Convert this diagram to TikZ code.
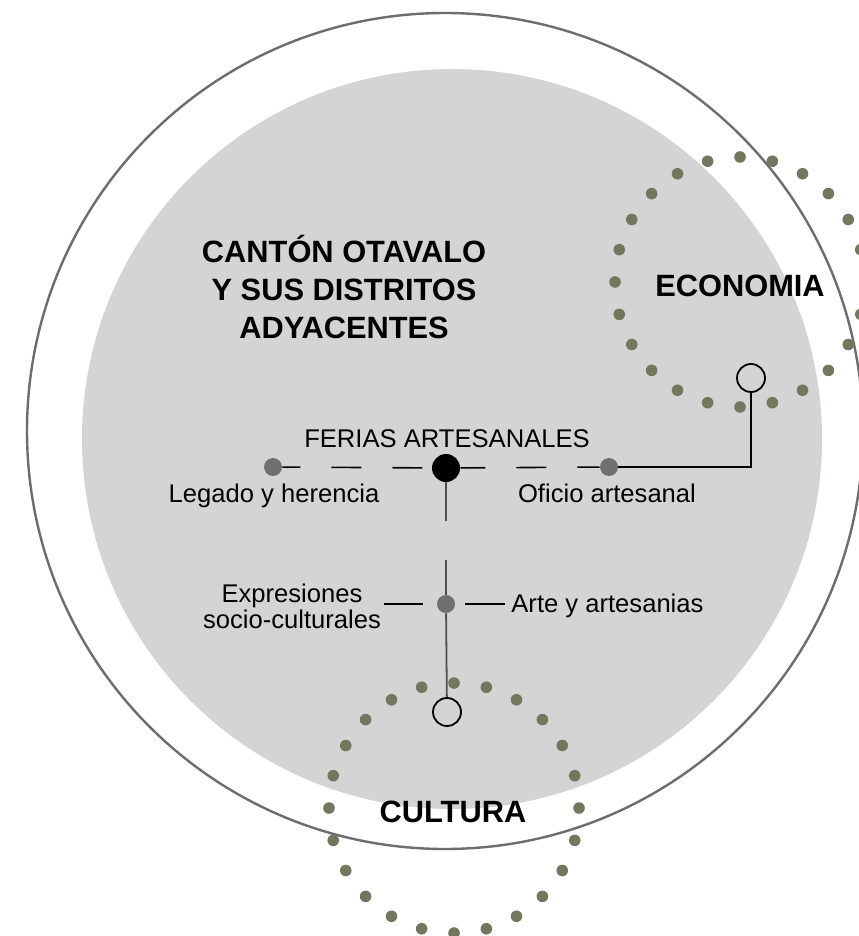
\documentclass[tikz,border=0pt]{standalone}
\usepackage{fontspec}
\setmainfont{Liberation Sans}
\usetikzlibrary{positioning}

\definecolor{diskgray}{HTML}{D3D5D5}
\definecolor{ringgray}{HTML}{6D6D6D}
\definecolor{dotolive}{HTML}{74775E}
\definecolor{nodegray}{HTML}{707070}
\definecolor{stemgray}{HTML}{505050}

\tikzset{
  hub/.style={circle, fill=black, minimum size=14pt, inner sep=0pt},
  subnode/.style={circle, fill=nodegray, minimum size=9pt, inner sep=0pt},
  endring/.style={circle, draw=black, line width=0.9pt, minimum size=14pt, inner sep=0pt},
  lbl/.style={inner sep=0pt, font=\fontsize{12.8}{13}\selectfont},
  head/.style={inner sep=0pt, font=\bfseries\fontsize{15.4}{19}\selectfont},
  link/.style={draw=black, line width=0.8pt},
  dashlink/.style={link, dash pattern=on 15pt off 15.5pt},
  stem/.style={draw=stemgray, line width=0.9pt},
}

\begin{document}
\begin{tikzpicture}[x=0.5pt, y=-0.5pt]
\useasboundingbox (0,0) rectangle (858,936);
\def\ecx{740}
\def\ecy{282}
\def\cux{454}
\def\cuy{808}
\def\rdot{125}

% disk and outer ring
\fill[diskgray] (452,439) circle (370);
\draw[ringgray, line width=1.2pt] (445,431) circle (418);

% dotted rings
\foreach \a in {0,15,...,345} {
  \fill[dotolive] (\ecx,\ecy) ++(\a:\rdot) circle (5.8);
  \fill[dotolive] (\cux,\cuy) ++(\a:\rdot) circle (5.8);
}

% base anchor sits on the last line
\node[head, align=center, anchor=base] (title) at (344,338) {CANTÓN OTAVALO\\Y SUS DISTRITOS\\ADYACENTES};
\node[head, anchor=base] (econlbl) at (\ecx,296) {ECONOMIA};
\node[head, anchor=base] (cultlbl) at (453,822) {CULTURA};

\node[hub] (ferias) at (446,468) {};
\node[subnode] (legado) at (273,467) {};
\node[subnode] (oficio) at (609,467) {};
\node[subnode] (expres) at (446,604) {};
\node[endring] (econ) at (751,378) {};
\node[endring] (cult) at (447,712) {};

\node[lbl, anchor=base] (ferlbl) at (447,447) {FERIAS ARTESANALES};
\node[lbl, anchor=base] (leglbl) at (274,502) {Legado y herencia};
\node[lbl, anchor=base] (ofilbl) at (607,502) {Oficio artesanal};
\node[lbl, align=center, anchor=base] (exprlbl) at (292,628) {Expresiones\\socio-culturales};
\node[lbl, anchor=base west] (artlbl) at (511,612) {Arte y artesanias};

\coordinate (gaptop) at (446,521);
\coordinate (gapbot) at (446,560);

\draw[dashlink, dash phase=6pt] (legado) -- (ferias);
\draw[dashlink, dash phase=2.5pt] (ferias) -- (oficio);
\draw[link] (oficio) -| (econ);
\draw[stem] (ferias) -- (gaptop);
\draw[stem] (gapbot) -- (expres);
\draw[stem] (expres) -- (cult);
\draw[link, shorten <=1.5pt, shorten >=7pt] (expres -| exprlbl.east) -- (expres);
\draw[link, shorten <=5pt, shorten >=3pt] (expres) -- (artlbl.west |- expres);

\end{tikzpicture}
\end{document}
